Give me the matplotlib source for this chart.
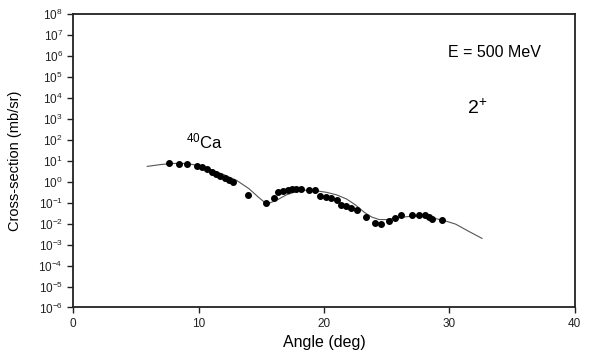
import numpy as np
import matplotlib.pyplot as plt

plt.rcParams['font.family'] = ['Liberation Sans', 'DejaVu Sans']
plt.rcParams['mathtext.fontset'] = 'custom'
plt.rcParams['mathtext.rm'] = 'Liberation Sans'
plt.rcParams['mathtext.it'] = 'Liberation Sans'

# measured data (angle in deg, log10 of cross-section in mb/sr)
exp_angle = [7.65, 8.42, 9.06, 9.83, 10.23, 10.63, 11.03, 11.37, 11.74, 12.09,
             12.43, 12.70, 13.9, 15.35, 16.02, 16.33, 16.73, 17.13, 17.48, 17.80,
             18.2, 18.8, 19.26, 19.71, 20.19, 20.59, 21.04, 21.39, 21.78, 22.18,
             22.63, 23.38, 24.04, 24.57, 25.18, 25.63, 26.17, 27.04, 27.57, 28.02,
             28.37, 28.64, 29.43]
exp_logxs = [0.92, 0.84, 0.87, 0.78, 0.71, 0.63, 0.47, 0.36, 0.30, 0.20,
             0.11, 0.0, -0.65, -1.01, -0.76, -0.50, -0.44, -0.37, -0.34, -0.33,
             -0.34, -0.37, -0.41, -0.69, -0.73, -0.78, -0.85, -1.12, -1.17, -1.23,
             -1.36, -1.67, -1.95, -2.0, -1.88, -1.71, -1.60, -1.56, -1.57, -1.60,
             -1.68, -1.76, -1.81]

# calculation
th_angle = [5.9, 7.0, 8.0, 9.0, 10.0, 11.0, 12.0, 13.0, 14.0, 14.8, 15.3, 15.7,
            16.3, 17.0, 17.8, 18.5, 19.4, 20.2, 21.0, 21.8, 22.5, 23.2, 23.8,
            24.4, 25.0, 25.8, 26.8, 27.8, 28.8, 29.6, 30.5, 31.5, 32.6]
th_logxs = [0.74, 0.83, 0.88, 0.88, 0.78, 0.57, 0.35, 0.08, -0.32, -0.75, -1.0, -1.0,
            -0.85, -0.62, -0.46, -0.40, -0.43, -0.50, -0.62, -0.82, -1.1, -1.45, -1.68,
            -1.80, -1.80, -1.72, -1.65, -1.65, -1.74, -1.85, -2.02, -2.35, -2.7]

fig = plt.figure(figsize=(5.97, 3.51), dpi=100)
ax = fig.add_axes([0.1228, 0.124, 0.840, 0.835])

ax.plot(th_angle, 10 ** np.array(th_logxs), color='#555555', lw=0.8)
ax.plot(exp_angle, 10 ** np.array(exp_logxs), 'o', color='black', ms=4.0, mec='black')

ax.set_yscale('log')
ax.set_xlim(0, 40)
ax.set_ylim(1e-6, 1e8)
ax.set_xticks([0, 10, 20, 30, 40])
ax.set_yticks([10.0 ** k for k in range(-6, 9)])
ax.yaxis.set_minor_locator(plt.NullLocator())
ax.tick_params(axis='both', direction='out', length=4, width=1.0, labelsize=8.5,
               colors='#222222')
for sp in ax.spines.values():
    sp.set_linewidth(1.3)
    sp.set_color('#222222')

ax.set_xlabel('Angle (deg)', fontsize=11.5, labelpad=4)
ax.set_ylabel('Cross-section (mb/sr)', fontsize=10.5)
ax.yaxis.set_label_coords(-0.102, 0.5)

ax.text(0.84, 0.87, 'E = 500 MeV', transform=ax.transAxes, fontsize=11.5,
        ha='center', va='center')
ax.text(0.785, 0.68, '2$^{+}$', transform=ax.transAxes, fontsize=14,
        ha='left', va='center')
ax.text(0.225, 0.565, '$^{40}$Ca', transform=ax.transAxes, fontsize=12,
        ha='left', va='center')

fig.savefig('out.png', dpi=100)
